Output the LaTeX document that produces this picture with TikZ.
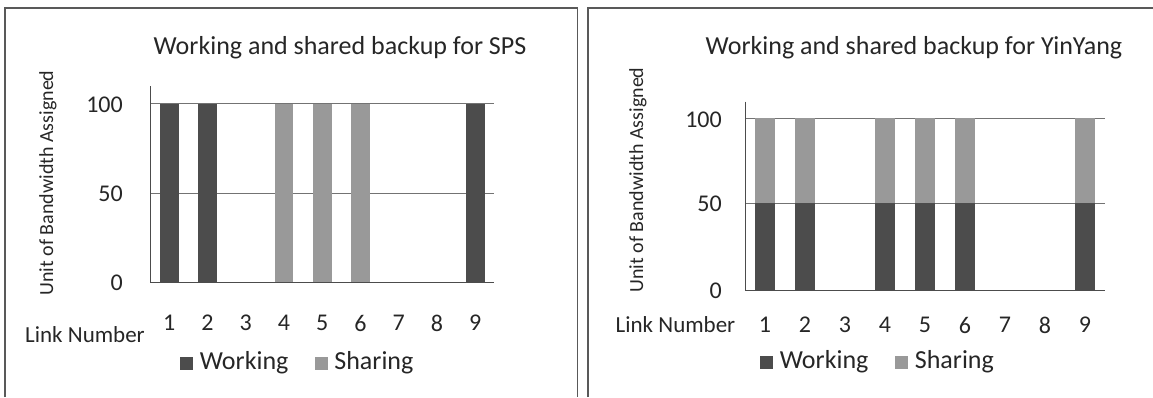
\documentclass[tikz,border=0pt]{standalone}
\usepackage{fontspec}
\setmainfont{Carlito}
\usepackage{tikz}
\usetikzlibrary{positioning,calc}
\definecolor{workgray}{gray}{0.30}
\definecolor{sharegray}{gray}{0.60}
\definecolor{framegray}{gray}{0.35}

\begin{document}
\begin{tikzpicture}[x=1pt,y=-1pt,
  title/.style={font=\fontsize{26}{30}\selectfont, text=black!85, inner sep=0pt},
  tick/.style={font=\fontsize{24}{28}\selectfont, text=black!85, inner sep=0pt},
  ylab/.style={font=\fontsize{20}{24}\selectfont, text=black!85, rotate=90, inner sep=0pt},
  key/.style={font=\fontsize{26}{30}\selectfont, text=black!85, inner sep=0pt, anchor=west},
  grid/.style={draw=black!55, line width=0.8pt},
  axis/.style={draw=black!70, line width=0.9pt},
  frame/.style={draw=framegray, line width=1.3pt},
  work/.style={fill=workgray},
  share/.style={fill=sharegray},
  swatch/.style={minimum size=13pt, inner sep=0pt}
]
\useasboundingbox (0,0) rectangle (1153,397);

% panel frames
\draw[frame] (5,397) -- (5,8) -- (577.7,8) -- (577.7,397);
\draw[frame] (588,397) -- (588,8) -- (1153,8);

% ---- left chart: SPS ----
\node[title] (titleA) at (340,48) {Working and shared backup for SPS};
\node[ylab]  (ylabA)  at (48,183) {Unit of Bandwidth Assigned};
\draw[grid] (150,103.5) -- (494.4,103.5);
\draw[grid] (150,193) -- (494.4,193);
\draw[axis] (150,86) -- (150,282) -- (494.4,282);
\node[tick, anchor=east] (hundA) at (123,105) {100};
\node[tick, anchor=east] (fiftyA) at (123,194) {50};
\node[tick, anchor=east] (zeroA) at (123,283) {0};

\fill[work]  (159.9,103.5) rectangle (178.5,282);
\fill[work]  (198.2,103.5) rectangle (216.8,282);
\fill[share] (274.7,103.5) rectangle (293.3,282);
\fill[share] (312.9,103.5) rectangle (331.5,282);
\fill[share] (351.2,103.5) rectangle (369.8,282);
\fill[work]  (466.0,103.5) rectangle (484.6,282);

\foreach \i in {1,...,9}
  \node[tick] (linkA\i) at ({169.2+38.26*(\i-1)},323) {\i};
\node[tick, font=\fontsize{23}{27}\selectfont] (numA) at (85,335) {Link Number};

\node[swatch, work]  (keyWA) at (186,363) {};
\node[key, right=7pt of keyWA] (txtWA) {Working};
\node[swatch, share] (keySA) at (321.5,363) {};
\node[key, right=6pt of keySA] (txtSA) {Sharing};

% ---- right chart: YinYang ----
\node[title] (titleB) at (914,48) {Working and shared backup for YinYang};
\node[ylab]  (ylabB)  at (638,180) {Unit of Bandwidth Assigned};
\draw[grid] (745,118.3) -- (1105,118.3);
\draw[grid] (745,203.3) -- (1105,203.3);
\draw[axis] (745,101.7) -- (745,290) -- (1105,290);
\node[tick, anchor=east] (hundB) at (722,120) {100};
\node[tick, anchor=east] (fiftyB) at (722,204) {50};
\node[tick, anchor=east] (zeroB) at (722,291) {0};

\foreach \i in {1,2,4,5,6,9}{
  \fill[work]  ({755+40*(\i-1)},203.3) rectangle ({775+40*(\i-1)},290);
  \fill[share] ({755+40*(\i-1)},118.3) rectangle ({775+40*(\i-1)},203.3);
}

\foreach \i in {1,...,9}
  \node[tick] (linkB\i) at ({765+40*(\i-1)},325) {\i};
\node[tick, font=\fontsize{23}{27}\selectfont] (numB) at (675.5,325) {Link Number};

\node[swatch, work]  (keyWB) at (766,362) {};
\node[key, right=7pt of keyWB] (txtWB) {Working};
\node[swatch, share] (keySB) at (901,362) {};
\node[key, right=7pt of keySB] (txtSB) {Sharing};
\end{tikzpicture}
\end{document}
